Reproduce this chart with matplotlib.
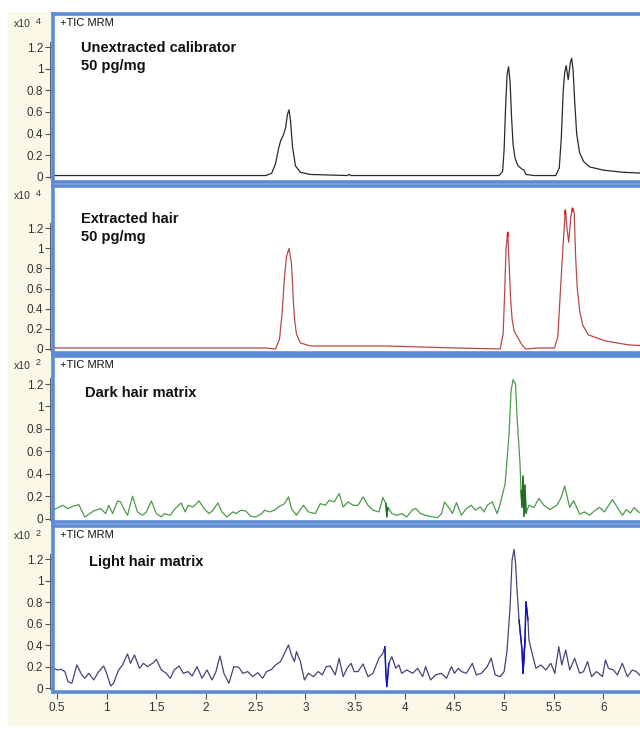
import matplotlib
matplotlib.use('Agg')
import matplotlib.pyplot as plt
import matplotlib.transforms as mtransforms
from matplotlib.patches import Rectangle

plt.rcParams['font.family'] = ['Liberation Sans', 'DejaVu Sans']

# Panel 1: unextracted calibrator (x10^4)
calib_x = [0.46, 1.50, 2.60, 2.66, 2.70, 2.73, 2.75, 2.78, 2.80, 2.82, 2.835, 2.85, 2.87, 2.90,
           2.95, 3.05, 3.42, 3.44, 3.46, 4.00, 4.95, 4.985, 5.00, 5.015, 5.03, 5.045, 5.06,
           5.075, 5.09, 5.11, 5.14, 5.18, 5.20, 5.22, 5.30, 5.52, 5.555, 5.575, 5.595, 5.61,
           5.625, 5.645, 5.665, 5.68, 5.695, 5.71, 5.73, 5.76, 5.80, 5.86, 6.00, 6.20, 6.45]
calib_y = [0.01, 0.01, 0.01, 0.03, 0.12, 0.26, 0.33, 0.39, 0.45, 0.58, 0.62, 0.52, 0.28, 0.10,
           0.04, 0.02, 0.01, 0.02, 0.01, 0.01, 0.01, 0.05, 0.25, 0.65, 0.95, 1.02, 0.88,
           0.55, 0.30, 0.17, 0.10, 0.07, 0.06, 0.02, 0.01, 0.01, 0.08, 0.35, 0.80, 0.97,
           1.03, 0.90, 1.05, 1.10, 0.98, 0.70, 0.40, 0.22, 0.14, 0.09, 0.06, 0.04, 0.03]

# Panel 2: extracted hair (x10^4)
extr_x = [0.46, 1.50, 2.60, 2.70, 2.74, 2.765, 2.79, 2.81, 2.835, 2.86, 2.875, 2.89, 2.91,
          2.95, 3.05, 3.50, 3.80, 4.50, 4.96, 4.99, 5.005, 5.02, 5.036, 5.05, 5.065, 5.08,
          5.10, 5.14, 5.18, 5.20, 5.217, 5.35, 5.507, 5.54, 5.565, 5.592, 5.616, 5.635,
          5.650, 5.671, 5.688, 5.705, 5.718, 5.735, 5.760, 5.790, 5.848, 6.018, 6.257, 6.45]
extr_y = [0.01, 0.01, 0.01, 0.00, 0.10, 0.35, 0.72, 0.92, 1.00, 0.85, 0.55, 0.30, 0.15,
          0.06, 0.03, 0.03, 0.03, 0.01, 0.00, 0.15, 0.55, 1.01, 1.16, 0.85, 0.50, 0.30,
          0.18, 0.11, 0.04, 0.02, 0.00, 0.01, 0.01, 0.12, 0.55, 1.01, 1.38, 1.18, 1.06,
          1.31, 1.40, 1.36, 0.95, 0.62, 0.38, 0.24, 0.14, 0.08, 0.04, 0.03]

# Panel 3: dark hair matrix (x10^2)
dark_x = [0.46, 0.56, 0.61, 0.66, 0.72, 0.78, 0.87, 0.94, 0.99, 1.02, 1.06, 1.11, 1.14, 1.18,
          1.21, 1.26, 1.31, 1.36, 1.40, 1.45, 1.50, 1.55, 1.58, 1.64, 1.69, 1.75, 1.79, 1.82,
          1.87, 1.93, 1.98, 2.03, 2.07, 2.12, 2.16, 2.21, 2.27, 2.30, 2.35, 2.40, 2.45, 2.50,
          2.56, 2.59, 2.64, 2.69, 2.74, 2.79, 2.83, 2.86, 2.91, 2.98, 3.03, 3.10, 3.15, 3.20,
          3.24, 3.29, 3.34, 3.38, 3.43, 3.48, 3.53, 3.58, 3.63, 3.68, 3.74, 3.78, 3.81, 3.82,
          3.83, 3.87, 3.92, 3.97, 4.02, 4.08, 4.11, 4.16, 4.21, 4.28, 4.33, 4.37, 4.40, 4.45,
          4.48, 4.52, 4.57, 4.62, 4.67, 4.71, 4.76, 4.80, 4.83, 4.88, 4.93, 4.96, 5.01, 5.05,
          5.07, 5.09, 5.115, 5.13, 5.16, 5.17, 5.18, 5.19, 5.20, 5.21, 5.22, 5.25, 5.30, 5.35,
          5.40, 5.46, 5.53, 5.57, 5.61, 5.66, 5.70, 5.76, 5.81, 5.86, 5.91, 5.96, 6.01, 6.09,
          6.14, 6.19, 6.23, 6.27, 6.31, 6.35, 6.38, 6.43]
dark_y = [0.075, 0.119, 0.090, 0.110, 0.125, 0.015, 0.069, 0.090, 0.045, 0.119, 0.045, 0.158,
          0.149, 0.075, 0.030, 0.200, 0.060, 0.030, 0.060, 0.158, 0.045, 0.015, 0.045, 0.030,
          0.090, 0.140, 0.060, 0.119, 0.104, 0.158, 0.090, 0.045, 0.075, 0.140, 0.060, 0.015,
          0.060, 0.045, 0.075, 0.069, 0.021, 0.015, 0.045, 0.075, 0.060, 0.075, 0.110, 0.134,
          0.194, 0.090, 0.030, 0.119, 0.060, 0.045, 0.134, 0.119, 0.164, 0.149, 0.224, 0.104,
          0.149, 0.119, 0.119, 0.194, 0.119, 0.075, 0.060, 0.188, 0.134, 0.015, 0.100, 0.045,
          0.030, 0.045, 0.015, 0.081, 0.090, 0.045, 0.030, 0.015, 0.009, 0.045, 0.149, 0.090,
          0.045, 0.143, 0.030, 0.090, 0.119, 0.075, 0.104, 0.060, 0.119, 0.149, 0.045, 0.130,
          0.31, 0.76, 1.14, 1.24, 1.20, 0.91, 0.49, 0.25, 0.10, 0.38, 0.02, 0.30, 0.05, 0.12,
          0.10, 0.18, 0.12, 0.08, 0.12, 0.18, 0.29, 0.10, 0.16, 0.04, 0.06, 0.03, 0.07, 0.10,
          0.06, 0.17, 0.10, 0.03, 0.08, 0.05, 0.10, 0.06, 0.05, 0.08]

# Panel 4: light hair matrix (x10^2)
light_x = [0.46, 0.51, 0.54, 0.58, 0.61, 0.65, 0.70, 0.75, 0.78, 0.82, 0.87, 0.92, 0.97, 1.00,
           1.04, 1.07, 1.12, 1.16, 1.21, 1.24, 1.28, 1.33, 1.37, 1.41, 1.47, 1.50, 1.55, 1.60,
           1.64, 1.68, 1.73, 1.77, 1.82, 1.86, 1.91, 1.96, 2.01, 2.06, 2.10, 2.14, 2.18, 2.23,
           2.28, 2.33, 2.37, 2.42, 2.47, 2.52, 2.57, 2.61, 2.66, 2.70, 2.75, 2.79, 2.83, 2.86,
           2.89, 2.91, 2.95, 2.99, 3.03, 3.08, 3.13, 3.17, 3.21, 3.25, 3.30, 3.34, 3.38, 3.42,
           3.46, 3.49, 3.53, 3.58, 3.63, 3.68, 3.74, 3.78, 3.80, 3.81, 3.82, 3.84, 3.87, 3.91,
           3.94, 3.97, 4.02, 4.08, 4.13, 4.18, 4.21, 4.26, 4.31, 4.37, 4.42, 4.47, 4.50, 4.54,
           4.57, 4.62, 4.68, 4.72, 4.77, 4.83, 4.87, 4.91, 4.96, 5.00, 5.03, 5.06, 5.08, 5.10,
           5.115, 5.13, 5.15, 5.17, 5.18, 5.19, 5.21, 5.22, 5.24, 5.25, 5.29, 5.32, 5.37, 5.42,
           5.47, 5.51, 5.55, 5.58, 5.62, 5.66, 5.71, 5.76, 5.80, 5.84, 5.88, 5.93, 5.99, 6.02,
           6.05, 6.10, 6.14, 6.19, 6.24, 6.29, 6.33, 6.38, 6.42]
light_y = [0.185, 0.170, 0.176, 0.155, 0.062, 0.046, 0.217, 0.124, 0.093, 0.139, 0.077, 0.155,
           0.207, 0.139, 0.021, 0.046, 0.170, 0.217, 0.319, 0.232, 0.310, 0.186, 0.232, 0.201,
           0.238, 0.269, 0.170, 0.139, 0.093, 0.170, 0.207, 0.139, 0.155, 0.114, 0.201, 0.093,
           0.170, 0.077, 0.155, 0.300, 0.139, 0.046, 0.201, 0.195, 0.139, 0.155, 0.108, 0.145,
           0.093, 0.155, 0.176, 0.217, 0.248, 0.325, 0.403, 0.310, 0.248, 0.341, 0.248, 0.077,
           0.139, 0.108, 0.155, 0.124, 0.201, 0.207, 0.124, 0.279, 0.108, 0.186, 0.232, 0.155,
           0.155, 0.226, 0.108, 0.139, 0.279, 0.325, 0.387, 0.139, 0.015, 0.232, 0.294, 0.186,
           0.217, 0.139, 0.170, 0.139, 0.186, 0.108, 0.201, 0.077, 0.124, 0.139, 0.093, 0.201,
           0.139, 0.186, 0.155, 0.139, 0.232, 0.124, 0.139, 0.201, 0.279, 0.124, 0.108, 0.155,
           0.356, 0.759, 1.193, 1.293, 1.163, 0.914, 0.635, 0.449, 0.356, 0.139, 0.449, 0.806,
           0.635, 0.449, 0.294, 0.186, 0.217, 0.170, 0.232, 0.139, 0.387, 0.217, 0.356, 0.170,
           0.279, 0.139, 0.155, 0.248, 0.108, 0.155, 0.108, 0.263, 0.186, 0.170, 0.124, 0.232,
           0.108, 0.170, 0.155, 0.108, 0.046]

x_ticks = [0.5, 1, 1.5, 2, 2.5, 3, 3.5, 4, 4.5, 5, 5.5, 6]
x_ticklabels = ['0.5', '1', '1.5', '2', '2.5', '3', '3.5', '4', '4.5', '5', '5.5', '6']
y_ticks = [0, 0.2, 0.4, 0.6, 0.8, 1.0, 1.2]
y_ticklabels = ['0', '0.2', '0.4', '0.6', '0.8', '1', '1.2']

W, H = 640, 729
fig = plt.figure(figsize=(W / 100, H / 100), dpi=100)
fig.patch.set_facecolor('white')
fig.patches.append(Rectangle((8 / W, 3 / H), 1 - 8 / W, 1 - 15 / H, transform=fig.transFigure,
                             facecolor='#faf8e6', edgecolor='none', zorder=-10))

def px_box(top, bottom):
    return [53 / W, 1 - bottom / H, 0.93, (bottom - top) / H]

panels = [
    dict(box=px_box(14, 182), ylim=(-0.05, 1.51), x=calib_x, y=calib_y, color='#2a2a2a',
         exp='4', tic=True, label='Unextracted calibrator\n50 pg/mg', lab_xy=(81, 41)),
    dict(box=px_box(186, 353), ylim=(-0.04, 1.62), x=extr_x, y=extr_y, color='#b8484c',
         exp='4', tic=False, label='Extracted hair\n50 pg/mg', lab_xy=(81, 212)),
    dict(box=px_box(356, 522), ylim=(-0.03, 1.45), x=dark_x, y=dark_y, color='#4c9a4c',
         exp='2', tic=True, label='Dark hair matrix', lab_xy=(85, 386)),
    dict(box=px_box(526, 692), ylim=(-0.035, 1.51), x=light_x, y=light_y, color='#44447a',
         exp='2', tic=True, label='Light hair matrix', lab_xy=(89, 555)),
]
highlight = {2: ('#1f6e1f', [(3.815, 3.825), (5.175, 5.215)]),
             3: ('#1010cc', [(3.805, 3.835), (5.17, 5.19), (5.21, 5.225)])}

for i, p in enumerate(panels):
    ax = fig.add_axes(p['box'])
    ax.set_zorder(1)
    ax.set_facecolor('white')
    ax.plot(p['x'], p['y'], color=p['color'], lw=0.9)
    if i in highlight:
        hc, ranges = highlight[i]
        for lo, hi in ranges:
            idx = [k for k, xv in enumerate(p['x']) if lo <= xv <= hi]
            seg_x = [p['x'][k] for k in range(max(idx[0] - 1, 0), idx[-1] + 2)]
            seg_y = [p['y'][k] for k in range(max(idx[0] - 1, 0), idx[-1] + 2)]
            ax.plot(seg_x, seg_y, color=hc, lw=1.0)
    if i == 1:
        # brighter red tips on the peaks
        ax.plot([5.033, 5.036, 5.039], [1.12, 1.16, 1.12], color='#e01010', lw=1.0)
        ax.plot([5.612, 5.616, 5.620], [1.34, 1.38, 1.34], color='#e01010', lw=1.0)
        ax.plot([5.684, 5.688, 5.692], [1.37, 1.40, 1.38], color='#e01010', lw=1.0)
    ax.set_xlim(0.46, 6.45)
    ax.set_ylim(*p['ylim'])
    ax.set_yticks(y_ticks)
    ax.set_yticklabels(y_ticklabels)
    for s in ['top', 'bottom', 'left']:
        ax.spines[s].set_color('#5b8ad6')
        ax.spines[s].set_linewidth(2.6)
    ax.spines['right'].set_visible(False)
    ax.tick_params(axis='y', direction='out', length=6, width=0.8, color='#555555',
                   labelsize=8.5, labelcolor='#333333', pad=1)
    # thin grey axis line just left of the blue frame
    trans = mtransforms.blended_transform_factory(ax.transAxes, ax.transData)
    ax.plot([-0.005, -0.005], [-0.01, 1.25], color='#666666', lw=0.8, transform=trans,
            clip_on=False)
    if i == 3:
        ax.set_xticks(x_ticks)
        ax.set_xticklabels(x_ticklabels)
        ax.tick_params(axis='x', direction='out', length=5, width=0.8, color='#555555',
                       labelsize=8.5, labelcolor='#333333', pad=2)
    else:
        ax.set_xticks([])
    top_px = H - (p['box'][1] + p['box'][3]) * H
    fig.text(14 / W, 1 - (top_px + 10) / H, 'x10', fontsize=7.5, color='#333333', va='center')
    fig.text(36 / W, 1 - (top_px + 7) / H, p['exp'], fontsize=6.5, color='#333333', va='center')
    if p['tic']:
        fig.text(60 / W, 1 - (top_px + 9) / H, '+TIC MRM', fontsize=8, color='#111111',
                 va='center', zorder=5)
    lx, ly = p['lab_xy']
    fig.text(lx / W, 1 - ly / H, p['label'], fontsize=10.5, fontweight='bold',
             color='#111111', va='top', linespacing=1.35, zorder=5)

fig.savefig('out.png', dpi=100)
